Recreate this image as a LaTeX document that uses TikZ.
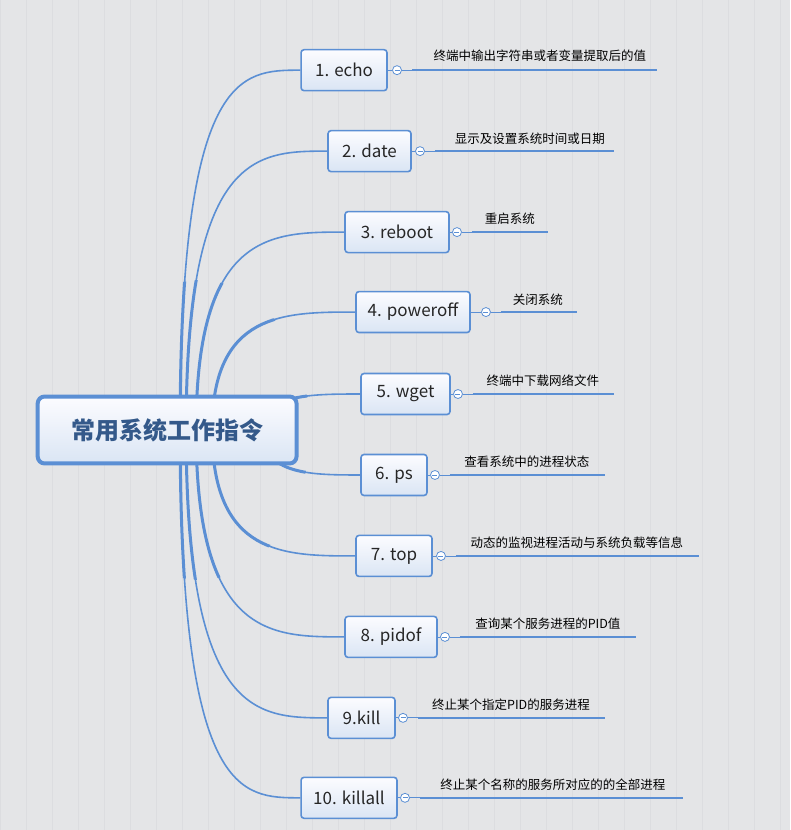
\documentclass[tikz,border=0pt]{standalone}
\usepackage{fontspec}
\setmainfont{Noto Sans CJK SC}
\usetikzlibrary{calc}
\definecolor{bg}{HTML}{E4E5E7}
\definecolor{gridc}{HTML}{DCDDE0}
\definecolor{blu}{HTML}{5B8FD4}
\definecolor{ctext}{HTML}{34598A}
\begin{document}
\begin{tikzpicture}[x=1pt,y=-1pt,
 cmd/.style={draw=blu,line width=1.6pt,rounded corners=3pt,top color=white!60!blue!3,bottom color={rgb,255:red,218;green,229;blue,244},minimum height=41pt,font=\fontsize{17}{17}\selectfont,text=black!85,inner sep=0pt},
 root/.style={draw=blu,line width=4pt,rounded corners=7pt,top color=white!60!blue!3,bottom color={rgb,255:red,218;green,229;blue,244},minimum width=259pt,minimum height=67pt,font=\fontsize{24}{24}\selectfont\bfseries,text=ctext},
 lbl/.style={font=\fontsize{12.5}{12.5}\selectfont,text=black,inner sep=0pt},
 bra/.style={draw=blu,line width=1.6pt},
 brb/.style={draw=blu,line width=3pt},
 uline/.style={draw=blu,line width=2.2pt},
 col/.style={circle,draw=blu,fill=white,line width=0.8pt,minimum size=9pt,inner sep=0pt}]
\fill[bg] (0,0) rectangle (790,830);
\draw[gridc,line width=0.4pt,step=26] (0,0) grid (790,830);
\useasboundingbox (0,0) rectangle (790,830);
\coordinate (rc) at (167,430);
\foreach \n/\t/\l/\r/\y/\c/\e/\sx in {
 b1/{1. echo}/301/387/70/397/657/180,
 b2/{2. date}/328/411/151/420/614/186,
 b3/{3. reboot}/345/449/232/457/548/196,
 b4/{4. poweroff}/356/470/312/486/577/212,
 b5/{5. wget}/361/450/394/458/614/262,
 b6/{6. ps}/361/427/475/435/605/262,
 b7/{7. top}/356/432/556/441/699/212,
 b8/{8. pidof}/345/437/637/445/636/196,
 b9/{9.kill}/328/395/718/403/605/186,
 b10/{10. killall}/301/397/798/405/683/180}{
 \pgfmathsetmacro{\w}{\r-\l}
 \pgfmathsetmacro{\cx}{(\r+\l)/2}
 \pgfmathsetmacro{\mx}{(\sx+\l)/2}
 \coordinate (\n s) at (\sx,430);
 \node[cmd,minimum width=\w pt] (\n) at (\cx,\y) {\t};
 \draw[bra] (\n s) .. controls (\sx,\y) and (\mx,\y) .. (\n.west);
 \begin{scope}
  \clip (200,430) ellipse [x radius=110, y radius=150];
  \draw[brb] (\n s) .. controls (\sx,\y) and (\mx,\y) .. (\n.west);
 \end{scope}
 \node[col] (\n c) at (\c,\y) {};
 \draw[blu,line width=0.8pt] ($(\n c)+(-2.5,0)$) -- ($(\n c)+(2.5,0)$);
 \draw[blu,line width=0.8pt] (\n.east) -- (\n c.west);
 \coordinate (\n e) at (\e,\y);
 \coordinate (\n m) at (\c+15,\y);
 \draw[blu,line width=0.8pt] (\n c.east) -- (\n m);
 \draw[uline] (\n m) -- (\n e);
}
\node[root] (root) at (rc) {常用系统工作指令};
\node[lbl] at (540,56) {终端中输出字符串或者变量提取后的值};
\node[lbl] at (530,139) {显示及设置系统时间或日期};
\node[lbl] at (510,219) {重启系统};
\node[lbl] at (538,300) {关闭系统};
\node[lbl] at (543,381) {终端中下载网络文件};
\node[lbl] at (527,462) {查看系统中的进程状态};
\node[lbl] at (577,543) {动态的监视进程活动与系统负载等信息};
\node[lbl] at (548,624) {查询某个服务进程的PID值};
\node[lbl] at (511,705) {终止某个指定PID的服务进程};
\node[lbl] at (553,785) {终止某个名称的服务所对应的的全部进程};
\end{tikzpicture}
\end{document}
